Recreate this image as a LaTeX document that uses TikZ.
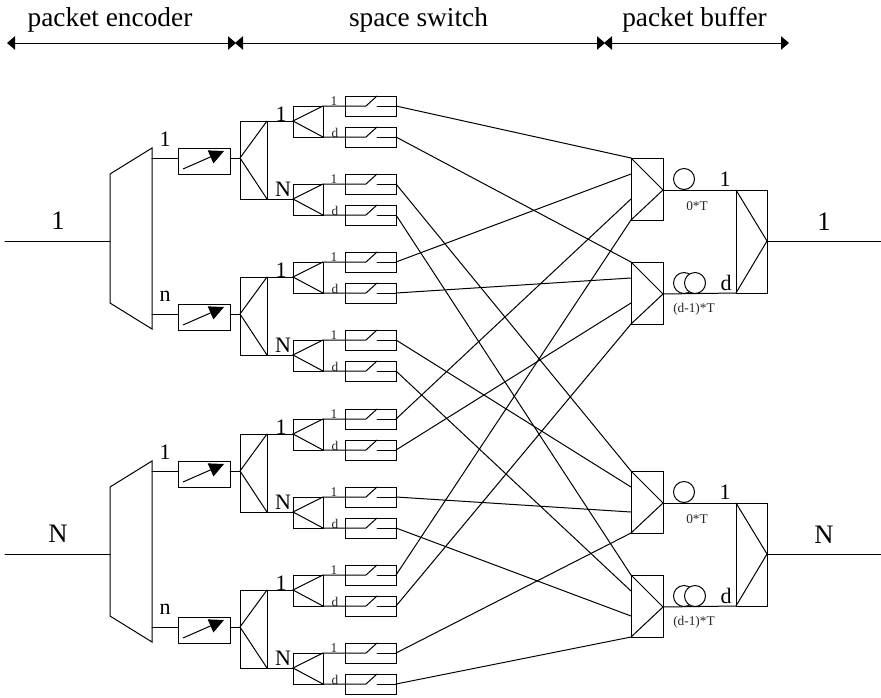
\documentclass[tikz,border=0pt]{standalone}
\usepackage{fontspec}
\setmainfont{Liberation Serif}
\usetikzlibrary{arrows.meta}
\tikzset{
  wire/.style={line width=0.75pt,line cap=round,line join=miter},
  span/.style={line width=0.75pt,{Triangle[length=6pt,width=10pt]}-{Triangle[length=6pt,width=10pt]}},
  tune/.style={line width=0.75pt,-{Triangle[length=11pt,width=10.5pt]}},
  loopcoil/.style={line width=0.75pt,fill=white},
  header/.style={inner sep=0pt,anchor=base,font=\fontsize{20.5}{22}\selectfont},
  big/.style={inner sep=0pt,font=\fontsize{20}{22}\selectfont},
  mid/.style={inner sep=0pt,font=\fontsize{16.5}{18}\selectfont},
  tiny/.style={inner sep=0pt,text=black!85,font=\fontsize{10}{11}\selectfont},
}
\begin{document}
\begin{tikzpicture}[x=0.75pt,y=-0.75pt]
\useasboundingbox (0,0) rectangle (881,697);
% header
\coordinate (a0) at (7,43); \coordinate (a1) at (236,43);
\coordinate (a2) at (235,43); \coordinate (a3) at (605,43);
\coordinate (a4) at (604,43); \coordinate (a5) at (789,43);
\draw[span] (a0) -- (a1);
\draw[span] (a2) -- (a3);
\draw[span] (a4) -- (a5);
\node[header] (h1) at (110,26.5) {packet encoder};
\node[header] (h2) at (418.5,26.5) {space switch};
\node[header] (h3) at (694.5,26.5) {packet buffer};
% input / output blocks (offset 0 and 313)
\foreach \o/\lab/\nm in {0/1/u,313/N/l}{
  \begin{scope}[yshift={-0.75pt*\o}]
    \coordinate (\nm in) at (5,241);
    \coordinate (\nm dm) at (110,241);
    \coordinate (\nm o1) at (152,158);
    \coordinate (\nm o2) at (152,314);
    \draw[wire] (\nm in) -- (\nm dm);
    \draw[wire] (110,174) -- (152,148) -- (152,329) -- (110,303) -- cycle;
    \node[big] (\nm inlab) at (58,221) {\lab};
    \node[mid] (\nm n1) at (165,139) {1};
    \node[mid] (\nm n2) at (165,296) {n};
    \foreach \k/\y in {1/158,2/314}{
      \coordinate (\nm tl\k) at (178,\y);
      \coordinate (\nm tr\k) at (230,\y);
      \coordinate (\nm sp\k) at (240,\y);
      \coordinate (\nm ta\k) at (183,\y+11);
      \coordinate (\nm tb\k) at (224,\y-7);
      \draw[wire] (\nm o\k) -- (\nm tl\k);
      \draw[wire] (178,\y-10) rectangle (230,\y+16);
      \draw[tune] (\nm ta\k) -- (\nm tb\k);
      \draw[wire] (\nm tr\k) -- (\nm sp\k);
      % first-stage splitter
      \coordinate (\nm st\k) at (267,\y-37);
      \coordinate (\nm sb\k) at (267,\y+41);
      \draw[wire] (240,\y-37) rectangle (267,\y+41);
      \draw[wire] (\nm st\k) -- (\nm sp\k) -- (\nm sb\k);
      \node[mid] (\nm la\k) at (281,\y-44) {1};
      \node[mid] (\nm lb\k) at (283,\y+31) {N};
      % second-stage splitters
      \foreach \j/\c/\dd in {a/\y-37/st,b/\y+41/sb}{
        \coordinate (\nm\k\j ap) at (293,\c);
        \draw[wire] (\nm\dd\k) -- (\nm\k\j ap);
        \draw[wire] (293,\c-15) rectangle (323,\c+16);
        \draw[wire] (323,\c-15) -- (\nm\k\j ap) -- (323,\c+16);
        \node[tiny] (\nm\k\j s1) at (334,\c-20) {1};
        \node[tiny] (\nm\k\j sd) at (335,\c+12) {d};
        % switches
        \foreach \w/\dy in {1/-15,2/16}{
          \coordinate (\nm\k\j\w i) at (323,\c+\dy);
          \coordinate (\nm\k\j\w c) at (366,\c+\dy);
          \coordinate (\nm\k\j\w t) at (377,\c+\dy-10);
          \coordinate (\nm\k\j\w g) at (377,\c+\dy);
          \coordinate (\nm\k\j\w o) at (396,\c+\dy);
          \draw[wire] (345,\c+\dy-10) rectangle (396,\c+\dy+10);
          \draw[wire] (\nm\k\j\w i) -- (\nm\k\j\w c) -- (\nm\k\j\w t);
          \draw[wire] (\nm\k\j\w g) -- (\nm\k\j\w o);
        }
      }
    }
    % final combiner and delay lines
    \coordinate (\nm fa) at (736,190);
    \coordinate (\nm fb) at (736,293);
    \coordinate (\nm fx) at (767,241);
    \coordinate (\nm fo) at (881,241);
    \draw[wire] (736,190) rectangle (767,293);
    \draw[wire] (\nm fa) -- (\nm fx) -- (\nm fb);
    \draw[wire] (\nm fx) -- (\nm fo);
    \node[big] (\nm outlab) at (824,222) {\lab};
    \node[mid] (\nm dl1) at (725,179) {1};
    \node[mid] (\nm dl2) at (726,283) {d};
    \node[tiny] (\nm t0) at (697,206) {0*T};
    \node[tiny] (\nm t1) at (694,309) {(d-1)*T};
    \foreach \m/\t/\f in {a/158/fa,b/262/fb}{
      \coordinate (\nm\m x) at (663,\t+32);
      \draw[wire] (631,\t) rectangle (663,\t+62);
      \draw[wire] (631,\t) -- (\nm\m x) -- (631,\t+62);
      \draw[wire] (\nm\m x) -- (\nm\f);
      \foreach \q/\dy in {1/0,2/16,3/41,4/62}{
        \coordinate (\nm\m p\q) at (631,\t+\dy);
      }
    }
    \draw[loopcoil] (684,179) circle [radius=10.5];
    \draw[loopcoil] (684,283) circle [radius=10.5];
    \draw[loopcoil] (695,283) circle [radius=10.5];
  \end{scope}
}
% shuffle connectors
\foreach \s/\e in {
  u1a1o/uap1, u1a2o/ubp1, u1b1o/lap1, u1b2o/lbp1,
  u2a1o/uap2, u2a2o/ubp2, u2b1o/lap2, u2b2o/lbp2,
  l1a1o/uap3, l1a2o/ubp3, l1b1o/lap3, l1b2o/lbp3,
  l2a1o/uap4, l2a2o/ubp4, l2b1o/lap4, l2b2o/lbp4}{
  \draw[wire] (\s) -- (\e);
}
\end{tikzpicture}
\end{document}
